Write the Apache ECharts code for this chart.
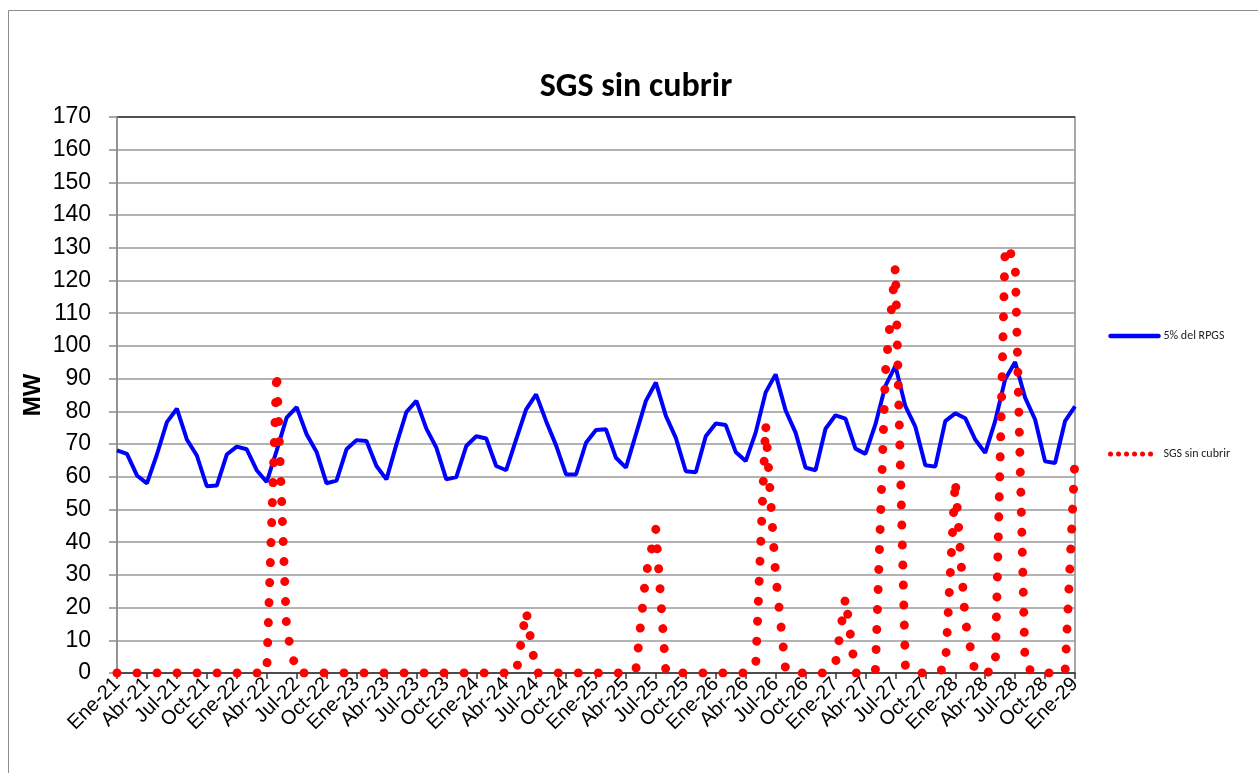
<!DOCTYPE html>
<html>
<head>
<meta charset="utf-8">
<script src="https://cdn.jsdelivr.net/npm/echarts@6/dist/echarts.min.js"></script>
<style>
  html, body { margin: 0; padding: 0; background: #fff; }
  #chart { width: 1258px; height: 773px; }
</style>
</head>
<body>
<div id="chart"></div>
<script>
// month names and years used for the category axis
const monthNames = ["Ene", "Feb", "Mar", "Abr", "May", "Jun", "Jul", "Ago", "Sep", "Oct", "Nov", "Dic"];
const years = ["21", "22", "23", "24", "25", "26", "27", "28"];
const lastMonth = "Ene-29";

// 5% del RPGS (MW), monthly Ene-21 .. Ene-29
const rpgs = [
  68.1, 67.0, 60.4, 58.0, 66.8, 76.7, 80.8, 71.4, 66.5, 57.1, 57.3, 66.8,
  69.2, 68.4, 62.0, 58.4, 68.0, 78.1, 81.3, 73.0, 67.6, 58.0, 58.8, 68.4,
  71.2, 70.9, 63.3, 59.2, 69.9, 79.8, 83.2, 74.7, 68.9, 59.2, 59.9, 69.4,
  72.4, 71.7, 63.3, 62.0, 71.4, 80.6, 85.2, 77.0, 69.6, 60.7, 60.7, 70.4,
  74.3, 74.5, 65.8, 62.8, 73.0, 83.2, 88.8, 78.6, 71.9, 61.7, 61.4, 72.4,
  76.3, 75.8, 67.6, 64.8, 73.5, 85.8, 91.3, 80.3, 73.5, 62.8, 62.0, 74.7,
  78.8, 77.8, 68.6, 67.0, 76.0, 87.8, 93.9, 81.6, 75.3, 63.5, 63.1, 77.0,
  79.4, 77.9, 71.4, 67.3, 77.0, 89.8, 95.1, 84.2, 77.5, 64.7, 64.2, 77.0,
  81.5
];

// SGS sin cubrir (MW)
const sgs = [
  0, 0, 0, 0, 0, 0, 0, 0, 0, 0, 0, 0,
  0, 0, 0, 0, 92, 13, 0, 0, 0, 0, 0, 0,
  0, 0, 0, 0, 0, 0, 0, 0, 0, 0, 0, 0,
  0, 0, 0, 0, 0, 19, 0, 0, 0, 0, 0, 0,
  0, 0, 0, 0, 1, 30, 44, 0.5, 0, 0, 0, 0,
  0, 0, 0, 0, 2, 76, 30, 1, 0, 0, 0, 0,
  3, 23, 0, 0, 1, 92, 124, 2, 0, 0, 0, 1.5,
  59, 16, 0, 0, 1, 130.5, 126.5, 2, 0, 0, 0, 0,
  66
];

let categories = [];
for (const y of years) {
  for (const m of monthNames) {
    categories.push(m + "-" + y);
  }
}
categories.push(lastMonth);

// gridlines gray, top one (170) darker like the plot border
let splitColors = [];
for (let i = 0; i < 18; i++) {
  splitColors.push(i === 17 ? "#333" : "#9a9a9a");
}

const chart = echarts.init(document.getElementById("chart"));

const option = {
  animation: false,
  backgroundColor: "#fff",
  title: {
    text: "SGS sin cubrir",
    left: 631,
    top: 65,
    textAlign: "center",
    textStyle: {
      fontFamily: "Carlito, Lato, sans-serif",
      fontSize: 34,
      fontWeight: "bold",
      color: "#000",
    },
  },
  graphic: [
    {
      type: "rect",
      shape: { x: 8.5, y: 10.5, width: 1400, height: 900 },
      style: { fill: "none", stroke: "#8c8c8c", lineWidth: 1 },
      silent: true,
    },
  ],
  legend: {
    orient: "vertical",
    left: 1103,
    top: 325,
    itemGap: 106,
    itemWidth: 48,
    itemHeight: 14,
    itemStyle: { opacity: 0 },
    textStyle: {
      fontFamily: "Carlito, Lato, sans-serif",
      fontSize: 12,
      color: "#222",
    },
    data: [
      { name: "5% del RPGS", lineStyle: { width: 4.5, cap: "round" } },
      {
        name: "SGS sin cubrir",
        lineStyle: { type: [0.01, 8], width: 5, cap: "round" },
      },
    ],
  },
  grid: {
    left: 117,
    right: 183,
    top: 117,
    bottom: 100,
    show: true,
    borderColor: "#8c8c8c",
    borderWidth: 1.5,
  },
  xAxis: {
    type: "category",
    data: categories,
    boundaryGap: false,
    axisLine: { lineStyle: { color: "#333", width: 1.5 } },
    axisTick: {
      interval: 2,
      length: 6,
      lineStyle: { color: "#333", width: 1.5 },
    },
    axisLabel: {
      interval: 2,
      rotate: 45,
      margin: 8,
      fontFamily: "Liberation Sans, Arial, sans-serif",
      fontSize: 20,
      color: "#000",
    },
    splitLine: { show: false },
  },
  yAxis: {
    type: "value",
    min: 0,
    max: 170,
    interval: 10,
    name: "MW",
    nameLocation: "middle",
    nameGap: 72,
    nameMoveOverlap: false,
    nameTextStyle: {
      fontFamily: "Liberation Sans, Arial, sans-serif",
      fontSize: 24,
      fontWeight: "bold",
      color: "#000",
    },
    axisLine: { show: true, lineStyle: { color: "#8c8c8c", width: 1.5 } },
    axisTick: { show: true, length: 8, lineStyle: { color: "#8c8c8c", width: 1.5 } },
    axisLabel: {
      margin: 26,
      fontFamily: "Liberation Sans, Arial, sans-serif",
      fontSize: 23,
      color: "#000",
    },
    splitLine: { lineStyle: { color: splitColors, width: 1.5 } },
  },
  series: [
    {
      name: "5% del RPGS",
      type: "line",
      data: rpgs,
      symbol: "none",
      color: "#0000ff",
      lineStyle: { color: "#0000ff", width: 4 },
      z: 3,
    },
    {
      name: "SGS sin cubrir",
      type: "line",
      data: sgs,
      symbol: "none",
      color: "#ff0000",
      lineStyle: { color: "#ff0000", width: 9, type: [0.01, 20], cap: "round" },
      z: 4,
    },
  ],
};

chart.setOption(option);
</script>
</body>
</html>
